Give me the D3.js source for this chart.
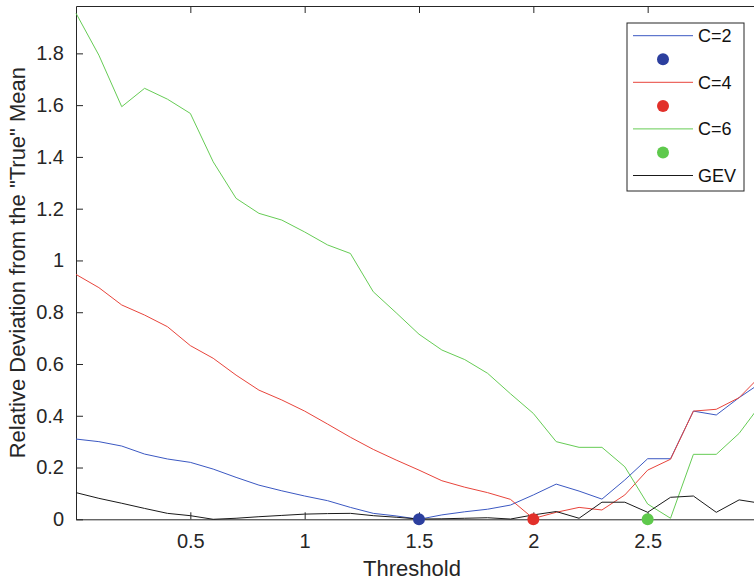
<!DOCTYPE html>
<html>
<head>
<meta charset="utf-8">
<script src="https://cdn.jsdelivr.net/npm/d3@7"></script>
<style>
  body { margin: 0; background: #fff; }
  svg { display: block; font-family: "Liberation Sans", Arial, sans-serif; }
</style>
</head>
<body>
<svg id="chart" width="754" height="580"></svg>
<script>
// data
const thresholds = [0, 0.1, 0.2, 0.3, 0.4, 0.5, 0.6, 0.7, 0.8, 0.9, 1.0, 1.1, 1.2, 1.3, 1.4, 1.5,
  1.6, 1.7, 1.8, 1.9, 2.0, 2.1, 2.2, 2.3, 2.4, 2.5, 2.6, 2.7, 2.8, 2.9, 3.0];
const c2 = [0.310, 0.300, 0.283, 0.252, 0.233, 0.220, 0.194, 0.162, 0.132, 0.110, 0.090, 0.072, 0.046, 0.023, 0.013, 0.000,
  0.017, 0.029, 0.039, 0.055, 0.094, 0.136, 0.109, 0.078, 0.152, 0.234, 0.234, 0.418, 0.403, 0.470, 0.530];
const c4 = [0.946, 0.895, 0.828, 0.789, 0.744, 0.671, 0.622, 0.557, 0.499, 0.461, 0.418, 0.368, 0.317, 0.270, 0.229, 0.190,
  0.149, 0.124, 0.103, 0.077, 0.003, 0.027, 0.046, 0.036, 0.094, 0.190, 0.232, 0.418, 0.425, 0.470, 0.560];
const c6 = [1.955, 1.793, 1.594, 1.665, 1.623, 1.568, 1.381, 1.240, 1.182, 1.156, 1.110, 1.060, 1.027, 0.879, 0.798, 0.715,
  0.654, 0.617, 0.564, 0.485, 0.409, 0.300, 0.278, 0.278, 0.203, 0.059, 0.004, 0.251, 0.251, 0.332, 0.450];
const gev = [0.103, 0.081, 0.062, 0.042, 0.023, 0.014, 0.000, 0.004, 0.010, 0.015, 0.020, 0.022, 0.023, 0.014, 0.008, 0.001,
  0.002, 0.004, 0.006, 0.001, 0.017, 0.030, 0.004, 0.066, 0.066, 0.027, 0.085, 0.090, 0.027, 0.075, 0.061];

// optimal thresholds marked with dots
const optX = [1.5, 2.0, 2.5];
const optY = [0, 0, 0];

const xTicks = [0.5, 1, 1.5, 2, 2.5];
const yTicks = [0, 0.2, 0.4, 0.6, 0.8, 1, 1.2, 1.4, 1.6, 1.8];
const legendLabels = ['C=2', 'C=4', 'C=6', 'GEV'];

const lineColors = ['#3b58c2', '#e8443b', '#66cc55', '#1a1a1a'];
const dotColors = ['#2c3f9e', '#e2302a', '#5ec94c'];
const axisColor = '#262626';

const svg = d3.select('#chart');
const margin = {left: 76, top: 6};
const plotW = 686;
const plotH = 513.3;

const x = d3.scaleLinear().domain([0, 3]).range([0, plotW]);
const y = d3.scaleLinear().domain([0, 1.983]).range([plotH, 0]);

const plot = svg.append('g')
  .attr('transform', `translate(${margin.left}, ${margin.top})`);

// box + inward ticks on all sides
const fmt = d => d3.format('~g')(d);

const xAxis = plot.append('g')
  .attr('transform', `translate(0, ${plotH})`)
  .call(d3.axisBottom(x).tickValues(xTicks).tickFormat(fmt).tickSizeInner(-7).tickSizeOuter(0).tickPadding(15));
const xAxisTop = plot.append('g')
  .call(d3.axisTop(x).tickValues(xTicks).tickFormat('').tickSizeInner(-7).tickSizeOuter(0));
const yAxis = plot.append('g')
  .call(d3.axisLeft(y).tickValues(yTicks).tickFormat(fmt).tickSizeInner(-7).tickSizeOuter(0).tickPadding(12));
const yAxisRight = plot.append('g')
  .attr('transform', `translate(${plotW}, 0)`)
  .call(d3.axisRight(y).tickValues(yTicks).tickFormat('').tickSizeInner(-7).tickSizeOuter(0));

[xAxis, xAxisTop, yAxis, yAxisRight].forEach(a => {
  a.select('.domain').attr('stroke', axisColor);
  a.selectAll('.tick line').attr('stroke', axisColor);
  a.selectAll('.tick text')
    .attr('fill', axisColor)
    .style('font-size', '20px')
    .style('font-family', '"Liberation Sans", Arial, sans-serif');
});

// series lines
const series = [c2, c4, c6, gev];
const line = d3.line()
  .x((d, i) => x(thresholds[i]))
  .y(d => y(d));

plot.selectAll('.series')
  .data(series)
  .join('path')
    .attr('class', 'series')
    .attr('fill', 'none')
    .attr('stroke', (d, i) => lineColors[i])
    .attr('stroke-width', 1)
    .attr('d', line);

// dots
plot.selectAll('.opt')
  .data(optX)
  .join('circle')
    .attr('class', 'opt')
    .attr('cx', d => x(d))
    .attr('cy', (d, i) => y(optY[i]))
    .attr('r', 6)
    .attr('fill', (d, i) => dotColors[i]);

// axis labels
svg.append('text')
  .attr('x', 412)
  .attr('y', 576)
  .attr('text-anchor', 'middle')
  .attr('fill', axisColor)
  .style('font-size', '22px')
  .text('Threshold');

svg.append('text')
  .attr('transform', `translate(25, ${margin.top + plotH / 2}) rotate(-90)`)
  .attr('text-anchor', 'middle')
  .attr('fill', axisColor)
  .style('font-size', '22px')
  .text('Relative Deviation from the "True" Mean');

// legend
const legend = svg.append('g').attr('transform', 'translate(627, 23)');
legend.append('rect')
  .attr('width', 117)
  .attr('height', 168)
  .attr('fill', '#fff')
  .attr('stroke', axisColor)
  .attr('stroke-width', 1);

const rowH = 23.3;
legendLabels.forEach((label, i) => {
  const ly = 12.7 + i * 2 * rowH;
  legend.append('line')
    .attr('x1', 6).attr('x2', 66)
    .attr('y1', ly).attr('y2', ly)
    .attr('stroke', lineColors[i])
    .attr('stroke-width', 1);
  legend.append('text')
    .attr('x', 71)
    .attr('y', ly + 6.5)
    .attr('fill', '#111')
    .style('font-size', '18px')
    .text(label);
  if (i < dotColors.length) {
    legend.append('circle')
      .attr('cx', 36)
      .attr('cy', ly + rowH + 0.3)
      .attr('r', 6)
      .attr('fill', dotColors[i]);
  }
});
</script>
</body>
</html>
